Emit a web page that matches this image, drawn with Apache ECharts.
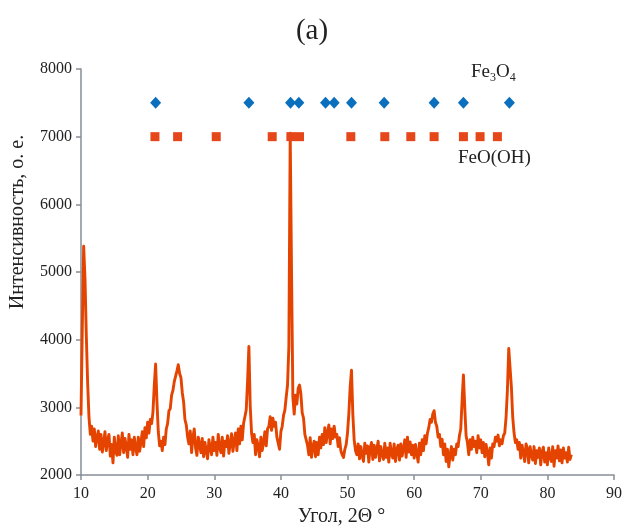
<!DOCTYPE html>
<html>
<head>
<meta charset="utf-8">
<script src="https://cdn.jsdelivr.net/npm/echarts@6/dist/echarts.min.js"></script>
<style>html,body{margin:0;padding:0;background:#fff}#c{width:624px;height:528px}</style>
</head>
<body>
<div id="c"></div>
<script>
// XRD scan: start angle and step (degrees 2Θ)
const scanStart = 10.0;
const scanStep = 0.2;
// measured intensity, one value per step (rows of 2 degrees)
const intensity = [
  2880, 4200, 5380, 4900, 4050, 3350, 2850, 2600, 2720, 2500, // 10.0
  2680, 2420, 2560, 2650, 2380, 2600, 2340, 2470, 2640, 2360, // 12.0
  2520, 2600, 2280, 2450, 2180, 2560, 2350, 2290, 2580, 2300, // 14.0
  2460, 2620, 2330, 2540, 2410, 2260, 2600, 2380, 2520, 2300, // 16.0
  2560, 2400, 2300, 2560, 2350, 2480, 2640, 2420, 2700, 2550, // 18.0
  2780, 2620, 2820, 2760, 2930, 3330, 3640, 3080, 2640, 2430, // 20.0
  2500, 2360, 2560, 2450, 2680, 2760, 2950, 2980, 3180, 3250, // 22.0
  3380, 3400, 3540, 3630, 3500, 3440, 3220, 3080, 2820, 2740, // 24.0
  2560, 2460, 2650, 2330, 2560, 2680, 2400, 2290, 2560, 2450, // 26.0
  2330, 2540, 2270, 2480, 2350, 2240, 2520, 2400, 2300, 2560, // 28.0
  2360, 2480, 2290, 2600, 2400, 2330, 2560, 2280, 2500, 2420, // 30.0
  2580, 2320, 2460, 2610, 2350, 2500, 2620, 2360, 2680, 2460, // 32.0
  2720, 2520, 2760, 2740, 2960, 3380, 3900, 3020, 2620, 2480, // 34.0
  2600, 2300, 2520, 2420, 2270, 2560, 2360, 2480, 2640, 2430, // 36.0
  2680, 2720, 2860, 2660, 2840, 2720, 2780, 2560, 2550, 2380, // 38.0
  2640, 2720, 2880, 2960, 3150, 3330, 3900, 7050, 5000, 3150, // 40.0
  2900, 3180, 3050, 3280, 3330, 3200, 2920, 2840, 2600, 2580, // 42.0
  2440, 2300, 2550, 2260, 2420, 2500, 2270, 2480, 2300, 2560, // 44.0
  2400, 2600, 2450, 2700, 2480, 2620, 2740, 2460, 2680, 2540, // 46.0
  2720, 2560, 2600, 2420, 2550, 2360, 2300, 2260, 2380, 2450, // 48.0
  2620, 2900, 3300, 3550, 2900, 2520, 2360, 2300, 2460, 2240, // 50.0
  2420, 2290, 2200, 2470, 2320, 2430, 2190, 2400, 2480, 2230, // 52.0
  2440, 2260, 2380, 2500, 2210, 2420, 2300, 2230, 2470, 2260, // 54.0
  2400, 2190, 2470, 2310, 2250, 2460, 2200, 2380, 2440, 2220, // 56.0
  2460, 2280, 2390, 2520, 2260, 2560, 2340, 2490, 2300, 2440, // 58.0
  2250, 2450, 2320, 2190, 2470, 2300, 2520, 2360, 2580, 2460, // 60.0
  2620, 2700, 2820, 2780, 2900, 2950, 2780, 2720, 2560, 2600, // 62.0
  2420, 2530, 2300, 2460, 2200, 2380, 2120, 2300, 2420, 2220, // 64.0
  2380, 2300, 2460, 2420, 2580, 2680, 3100, 3480, 3000, 2580, // 66.0
  2480, 2300, 2520, 2380, 2560, 2420, 2500, 2330, 2580, 2400, // 68.0
  2520, 2330, 2480, 2270, 2450, 2330, 2150, 2400, 2250, 2460, // 70.0
  2420, 2560, 2500, 2590, 2430, 2520, 2460, 2580, 2620, 2850, // 72.0
  3250, 3870, 3850, 3300, 2850, 2620, 2480, 2520, 2380, 2480, // 74.0
  2250, 2440, 2330, 2200, 2460, 2380, 2180, 2420, 2300, 2220, // 76.0
  2420, 2170, 2360, 2260, 2400, 2150, 2340, 2410, 2190, 2330, // 78.0
  2150, 2400, 2260, 2200, 2420, 2130, 2360, 2250, 2430, 2210, // 80.0
  2370, 2180, 2400, 2250, 2330, 2190, 2410, 2230, 2300        // 82.0
];
// reference phase positions
const fe3o4Angles = [21.2, 35.2, 41.45, 42.7, 46.7, 48.0, 50.6, 55.5, 63.0, 67.4, 74.3];
const fe3o4Level = 7500;
const feoohAngles = [21.1, 24.5, 30.3, 38.7, 41.5, 42.8, 50.5, 55.6, 59.5, 63.0, 67.4, 69.9, 72.5];
const feoohLevel = 7000;
// axis ticks
const xTicks = {min: 10, max: 90, interval: 10};
const yTicks = {min: 2000, max: 8000, interval: 1000};

const lineData = intensity.map((v, i) => [+(scanStart + i * scanStep).toFixed(2), v]);
const fe3o4Data = fe3o4Angles.map(a => [a, fe3o4Level]);
const feoohData = feoohAngles.map(a => [a, feoohLevel]);

const serif = '"Liberation Serif", "DejaVu Serif", serif';
const axisGray = '#868e96';
const textCol = '#222';

const chart = echarts.init(document.getElementById('c'), null, {renderer: 'canvas'});
chart.setOption({
  animation: false,
  backgroundColor: '#fff',
  title: {
    text: '(a)', left: 'center', top: 12,
    textStyle: {fontFamily: serif, fontSize: 29, fontWeight: 'normal', color: textCol}
  },
  grid: {left: 81, right: 10, top: 69, bottom: 53, containLabel: false, outerBoundsMode: 'none'},
  xAxis: {
    type: 'value', min: xTicks.min, max: xTicks.max, interval: xTicks.interval,
    name: 'Угол, 2Θ °', nameLocation: 'middle', nameGap: 30,
    nameTextStyle: {fontFamily: serif, fontSize: 20, color: textCol, padding: [0, 12, 0, 0]},
    axisLine: {show: true, lineStyle: {color: axisGray, width: 1.5}},
    axisTick: {show: true, inside: false, length: 5, lineStyle: {color: axisGray, width: 1.5}},
    axisLabel: {fontFamily: serif, fontSize: 16, color: textCol, margin: 11},
    splitLine: {show: false}
  },
  yAxis: {
    type: 'value', min: yTicks.min, max: yTicks.max, interval: yTicks.interval,
    name: 'Интенсивность, о. е.', nameLocation: 'middle', nameGap: 53, nameRotate: 90,
    nameTextStyle: {fontFamily: serif, fontSize: 20, color: textCol, padding: [0, 0, 0, 100]},
    axisLine: {show: true, lineStyle: {color: axisGray, width: 1.5}},
    axisTick: {show: true, inside: false, length: 5, lineStyle: {color: axisGray, width: 1.5}},
    axisLabel: {fontFamily: serif, fontSize: 16, color: textCol, margin: 9, formatter: v => String(v)},
    splitLine: {show: false}
  },
  series: [
    {
      type: 'line', data: lineData, showSymbol: false, symbol: 'none',
      lineStyle: {color: '#e54400', width: 2.9, join: 'round'}, z: 2
    },
    {
      type: 'scatter', data: feoohData, symbol: 'rect', symbolSize: 9,
      itemStyle: {color: '#e5461a', opacity: 1}, z: 3
    },
    {
      type: 'scatter', data: fe3o4Data, symbol: 'diamond', symbolSize: [11, 12],
      itemStyle: {color: '#0a6fbd', opacity: 1}, z: 4
    }
  ],
  graphic: [
    {
      type: 'text', left: 471, top: 63,
      style: {
        text: '{n|Fe}{s|3}{n|O}{s|4}',
        rich: {
          n: {fontFamily: serif, fontSize: 19, fill: textCol},
          s: {fontFamily: serif, fontSize: 12, fill: textCol, padding: [10, 0, 0, 0]}
        }
      }
    },
    {
      type: 'text', left: 458, top: 149,
      style: {text: 'FeO(OH)', fontFamily: serif, fontSize: 19, fill: textCol}
    }
  ]
});
</script>
</body>
</html>
